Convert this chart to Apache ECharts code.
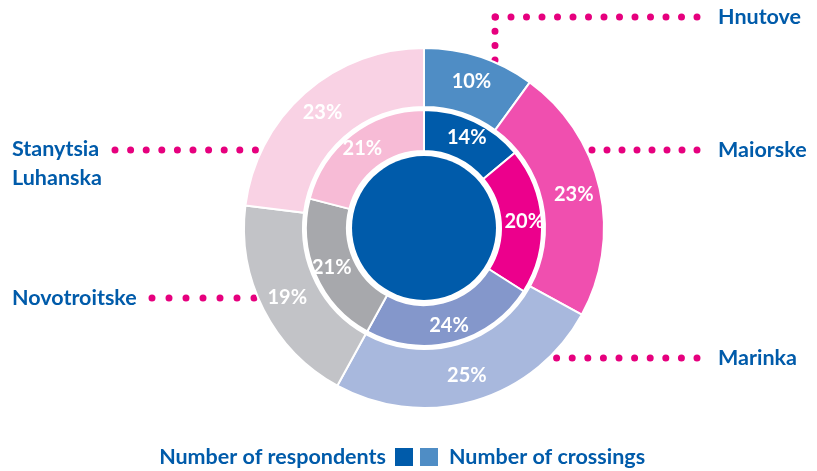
<!DOCTYPE html>
<html>
<head>
<meta charset="utf-8">
<script src="https://cdn.jsdelivr.net/npm/echarts@6/dist/echarts.min.js"></script>
<style>
  html, body { margin: 0; padding: 0; background: #ffffff; }
  #chart { width: 817px; height: 471px; }
</style>
</head>
<body>
<div id="chart"></div>
<script>
// categories, clockwise from 12 o'clock
const locations = ['Hnutove', 'Maiorske', 'Marinka', 'Novotroitske', 'Stanytsia\nLuhanska']
const respondents = [14, 20, 24, 21, 21]
const crossings = [10, 23, 25, 19, 23]
const seriesNames = ['Number of respondents', 'Number of crossings']

const innerColors = ['#005BAA', '#EC008C', '#8497CB', '#A7A8AC', '#F7BBD6']
const outerColors = ['#4F8DC5', '#F04FAF', '#A8B8DD', '#C2C3C7', '#F9D2E4']
const textBlue = '#005BAA'
const dotPink = '#E6007E'
const fontFamily = 'Lato, "Open Sans", sans-serif'

// leader lines + label anchors (layout only)
const leaders = [
    { lines: [[[697, 17], [495, 17]], [[495, 17], [495, 66]]], gaps: [15.5, 14.3], label: [718, 17] },
    { lines: [[[697, 150], [590, 150]]], gaps: [15], label: [718, 150] },
    { lines: [[[697, 358], [555, 358]]], gaps: [15.6], label: [718, 358] },
    { lines: [[[152, 298], [258, 298]]], gaps: [17], label: [12, 298] },
    { lines: [[[115, 150], [258, 150]]], gaps: [15.6], label: [12, 164] }
]

const chart = echarts.init(document.getElementById('chart'))

const graphics = []
leaders.forEach(function (l, i) {
    l.lines.forEach(function (pts, j) {
        graphics.push({
            type: 'polyline',
            z: -1,
            shape: { points: pts },
            style: { stroke: dotPink, lineWidth: 7, lineCap: 'round', lineDash: [0, l.gaps[j]], fill: null }
        })
    })
    graphics.push({
        type: 'text',
        x: l.label[0],
        y: l.label[1],
        style: {
            text: locations[i],
            fill: textBlue,
            font: 'bold 21.5px ' + fontFamily,
            lineHeight: 29,
            align: 'left',
            verticalAlign: 'middle'
        }
    })
})

const pctLabel = {
    show: true,
    position: 'inside',
    formatter: '{c}%',
    color: '#ffffff',
    fontFamily: fontFamily,
    fontWeight: 'bold',
    fontSize: 20
}

function legendText (pad) {
    return {
        color: textBlue,
        fontFamily: fontFamily,
        fontWeight: 'bold',
        fontSize: 21.5,
        padding: pad
    }
}

const option = {
    animation: false,
    graphic: graphics,
    legend: [{
        data: [{ name: seriesNames[0], itemStyle: { color: innerColors[0] } }],
        right: 402,
        top: 446,
        align: 'right',
        icon: 'rect',
        itemWidth: 20,
        itemHeight: 20,
        padding: 0,
        selectedMode: false,
        textStyle: legendText([0, 3, 0, 0])
    }, {
        data: [{ name: seriesNames[1], itemStyle: { color: outerColors[0] } }],
        left: 418,
        top: 446,
        align: 'left',
        icon: 'rect',
        itemWidth: 20,
        itemHeight: 20,
        padding: 0,
        selectedMode: false,
        textStyle: legendText([0, 0, 0, 5])
    }],
    series: [{
        type: 'pie',
        name: 'centre',
        center: [424, 228],
        radius: [0, 72],
        silent: true,
        label: { show: false },
        labelLine: { show: false },
        itemStyle: { color: innerColors[0] },
        data: [{ value: 1, name: '' }]
    }, {
        type: 'pie',
        name: seriesNames[0],
        center: [424, 228],
        radius: [77, 118],
        startAngle: 90,
        clockwise: true,
        silent: true,
        avoidLabelOverlap: false,
        label: pctLabel,
        labelLine: { show: false },
        itemStyle: { borderColor: '#ffffff', borderWidth: 2 },
        data: locations.map(function (n, i) {
            return { name: n, value: respondents[i], itemStyle: { color: innerColors[i] } }
        })
    }, {
        type: 'pie',
        name: seriesNames[1],
        center: [424, 228],
        radius: [121, 180],
        startAngle: 90,
        clockwise: true,
        silent: true,
        avoidLabelOverlap: false,
        label: pctLabel,
        labelLine: { show: false },
        itemStyle: { borderColor: '#ffffff', borderWidth: 2 },
        data: locations.map(function (n, i) {
            return { name: n, value: crossings[i], itemStyle: { color: outerColors[i] } }
        })
    }]
}

chart.setOption(option)
</script>
</body>
</html>
